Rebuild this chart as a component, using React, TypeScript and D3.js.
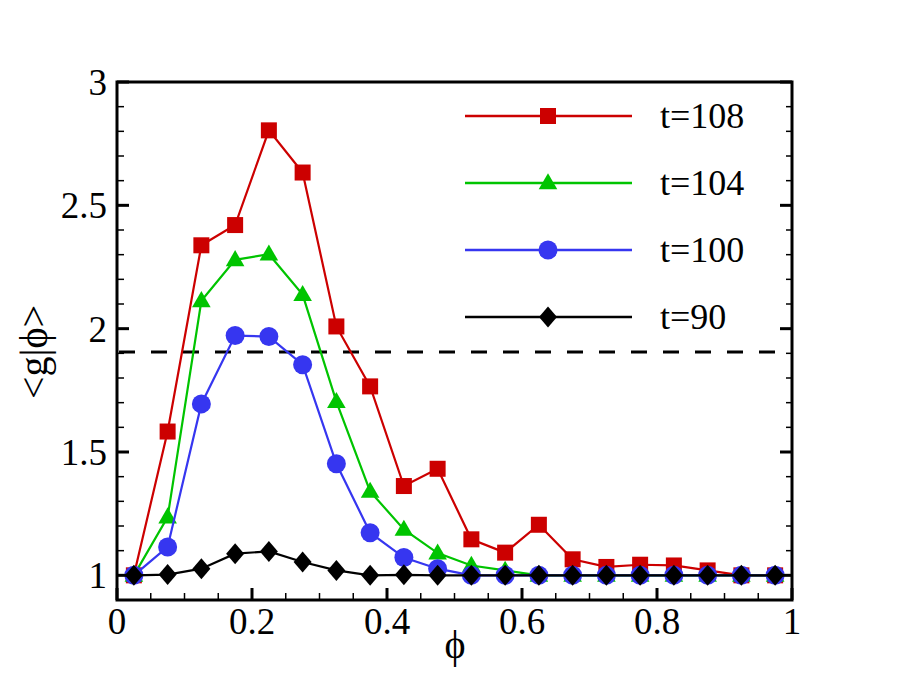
import React from "react";
import * as d3 from "d3";

const phi = [0.025, 0.075, 0.125, 0.175, 0.225, 0.275, 0.325, 0.375, 0.425, 0.475, 0.525, 0.575, 0.625, 0.675, 0.725, 0.775, 0.825, 0.875, 0.925, 0.975];
const t108 = [1.0, 1.583, 2.338, 2.42, 2.804, 2.633, 2.009, 1.766, 1.362, 1.432, 1.146, 1.092, 1.205, 1.065, 1.034, 1.043, 1.04, 1.02, 1.0, 1.0];
const t104 = [1.0, 1.236, 2.113, 2.279, 2.302, 2.138, 1.704, 1.34, 1.186, 1.09, 1.04, 1.02, 1.0, 1.0, 1.0, 1.0, 1.0, 1.0, 1.0, 1.0];
const t100 = [1.0, 1.115, 1.695, 1.972, 1.968, 1.854, 1.452, 1.173, 1.072, 1.027, 1.0, 1.0, 1.0, 1.0, 1.0, 1.0, 1.0, 1.0, 1.0, 1.0];
const t90 = [1.0, 1.003, 1.027, 1.088, 1.097, 1.054, 1.02, 1.0, 1.002, 1.0, 1.0, 1.0, 1.0, 1.0, 1.0, 1.0, 1.0, 1.0, 1.0, 1.0];
const refLine = 1.905;
const xTicks = [0, 0.2, 0.4, 0.6, 0.8, 1];
const yTicks = [1, 1.5, 2, 2.5, 3];

const seriesList = [
  { label: "t=108", values: t108, color: "#cc0000", marker: "square" },
  { label: "t=104", values: t104, color: "#00c400", marker: "triangle" },
  { label: "t=100", values: t100, color: "#3636f0", marker: "circle" },
  { label: "t=90", values: t90, color: "#000000", marker: "diamond" },
];

const W = 900, H = 675;
const L = 117, R = 792, T = 82, B = 600;
const x = d3.scaleLinear().domain([0, 1]).range([L, R]);
const y = d3.scaleLinear().domain([0.9, 3]).range([B, T]);

function Marker({ kind, cx, cy, color }: { kind: string; cx: number; cy: number; color: string }) {
  if (kind === "square") return <rect x={cx - 8} y={cy - 8} width={16} height={16} fill={color} />;
  if (kind === "triangle") {
    const p = d3.symbol().type(d3.symbolTriangle).size(150)();
    return <path d={p as string} transform={`translate(${cx},${cy + 1})`} fill={color} />;
  }
  if (kind === "circle") return <circle cx={cx} cy={cy} r={9.5} fill={color} />;
  return <path d={`M${cx},${cy - 10.5}L${cx + 9},${cy}L${cx},${cy + 10.5}L${cx - 9},${cy}Z`} fill={color} />;
}

const font = { fontFamily: "Liberation Serif" };

export default function App() {
  const line = d3.line<number>().x((_, i) => x(phi[i])).y((v) => y(v));
  const yMinor = d3.range(10, 30).map((d) => d / 10).filter((d) => Math.abs(d * 2 - Math.round(d * 2)) > 1e-6);
  const xMinor = d3.range(1, 20).map((d) => d / 20).filter((d) => Math.abs(d * 5 - Math.round(d * 5)) > 1e-6);
  const legY = [116, 183, 250, 317];
  return (
    <svg width={W} height={H} style={{ position: "absolute", left: 0, top: 0, background: "#fff", fontFamily: "Liberation Serif" }}>
      <rect width={W} height={H} fill="#fff" />
      <line x1={L} x2={R} y1={y(refLine)} y2={y(refLine)} stroke="#000" strokeWidth={3} strokeDasharray="16 16" strokeDashoffset={-2} />
      {seriesList.map((s) => (
        <g key={s.label}>
          <path d={line(s.values) as string} fill="none" stroke={s.color} strokeWidth={2.2} />
          {s.values.map((v, i) => (
            <Marker key={i} kind={s.marker} cx={x(phi[i])} cy={y(v)} color={s.color} />
          ))}
        </g>
      ))}
      {yTicks.map((t) => (
        <g key={"y" + t}>
          <line x1={L} x2={L + 12} y1={y(t)} y2={y(t)} stroke="#000" strokeWidth={3} />
          <line x1={R} x2={R - 12} y1={y(t)} y2={y(t)} stroke="#000" strokeWidth={3} />
          <text x={L - 10} y={y(t) + 13} textAnchor="end" fontSize={37} style={font}>{String(t)}</text>
        </g>
      ))}
      {yMinor.map((t) => (
        <g key={"ym" + t}>
          <line x1={L} x2={L + 7} y1={y(t)} y2={y(t)} stroke="#000" strokeWidth={1.5} />
          <line x1={R} x2={R - 6} y1={y(t)} y2={y(t)} stroke="#000" strokeWidth={1.5} />
        </g>
      ))}
      {xTicks.map((t) => (
        <g key={"x" + t}>
          <line x1={x(t)} x2={x(t)} y1={B} y2={B - 12} stroke="#000" strokeWidth={3} />
          <text x={x(t)} y={634} textAnchor="middle" fontSize={37} style={font}>{String(t)}</text>
        </g>
      ))}
      {xMinor.map((t) => (
        <line key={"xm" + t} x1={x(t)} x2={x(t)} y1={B} y2={B - 7} stroke="#000" strokeWidth={1.5} />
      ))}
      <rect x={L} y={T} width={R - L} height={B - T} fill="none" stroke="#000" strokeWidth={3} />
      {seriesList.map((s, i) => (
        <g key={"leg" + s.label}>
          <line x1={465} x2={632} y1={legY[i]} y2={legY[i]} stroke={s.color} strokeWidth={2.5} />
          <Marker kind={s.marker} cx={548} cy={legY[i]} color={s.color} />
          <text x={660} y={legY[i] + 12} fontSize={36} style={font}>{s.label}</text>
        </g>
      ))}
      <text x={455} y={658} textAnchor="middle" fontSize={40} style={font}>ϕ</text>
      <text transform="translate(47,352) rotate(-90)" textAnchor="middle" fontSize={40} style={font}>&lt;g|ϕ&gt;</text>
    </svg>
  );
}
